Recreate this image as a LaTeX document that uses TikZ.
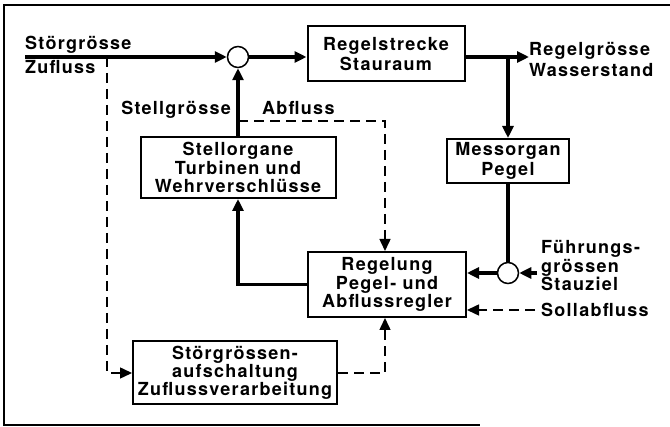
\documentclass[tikz,border=0pt]{standalone}
\usepackage{fontspec}
\setmainfont{TeX Gyre Heros}[LetterSpace=7]
\usepackage{tikz}
\usetikzlibrary{positioning, arrows.meta}

\begin{document}
\begin{tikzpicture}[
      x=1pt, y=-1pt,
      txt/.style={font=\fontsize{18}{18.5}\selectfont\bfseries, inner sep=0pt},
      box/.style={draw, line width=2pt, inner sep=0pt, align=center,
        font=\fontsize{18}{18.5}\selectfont\bfseries},
      sumpt/.style={draw, circle, line width=1.5pt, minimum size=21pt, inner sep=0pt},
      arr/.style={-{Triangle[length=12pt, width=11pt]}, line width=3.5pt},
      dsh/.style={-{Triangle[length=12pt, width=11pt]}, line width=1.5pt,
        dash pattern=on 10pt off 6pt}
    ]
    \useasboundingbox (0,0) rectangle (670,427);
    % frame
    \draw[line width=1.5pt] (670,5) -- (4,5) -- (4,425) -- (480,425);

    % blocks
    \node[box, minimum width=157pt, minimum height=55pt,
      font=\fontsize{18}{20.5}\selectfont\bfseries] (strecke) at (386,54) {Regelstrecke\\Stauraum};
    \node[box, minimum width=122pt, minimum height=44pt,
      font=\fontsize{18}{20.5}\selectfont\bfseries] (mess) at (508,161) {Messorgan\\Pegel};
    \node[box, minimum width=195pt, minimum height=61pt] (stell) at (238,167.5)
      {Stellorgane\\Turbinen und\\Wehrverschlüsse};
    \node[box, minimum width=158pt, minimum height=65pt] (regler) at (387,284.5)
      {Regelung\\Pegel- und\\Abflussregler};
    \node[box, minimum width=204pt, minimum height=63pt,
      font=\fontsize{18}{17}\selectfont\bfseries] (aufsch) at (235,373)
      {Störgrössen-\\aufschaltung\\Zuflussverarbeitung};
    \node[sumpt] (sum1) at (238,57) {};
    \node[sumpt] (sum2) at (508,273) {};

    % labels
    \node[txt, anchor=base west] (stoer) at (25,50) {Störgrösse};
    \node[txt, anchor=base west] (zufl) at (25,74) {Zufluss};
    \node[txt, anchor=base east] (stellgr) at (231,115) {Stellgrösse};
    \node[txt, anchor=base west] (abfl) at (262,115) {Abfluss};
    \node[txt, anchor=west, align=left, font=\fontsize{18}{21}\selectfont\bfseries]
      (regelgr) at (529,59) {Regelgrösse\\Wasserstand};
    \node[txt, anchor=west, align=left] (fuehr) at (541,266)
      {Führungs-\\grössen\\Stauziel};
    \node[txt, anchor=west] (soll) at (541,310) {Sollabfluss};

    \coordinate (in) at (25,57);
    \coordinate (zu) at (107,57);
    \coordinate (ab) at (238,121);

    % signal paths
    \draw[arr] (in) -- (sum1);
    \draw[arr] (sum1) -- (sum1 -| strecke.west);
    \draw[arr] (strecke.east |- sum1) -- (regelgr.west |- sum1);
    \draw[arr] (mess.north |- sum1) -- (mess.north);
    \draw[line width=3.5pt] (mess.south) -- (sum2.north);
    \draw[arr] (sum2) -- (sum2 -| regler.east);
    \draw[arr] ([xshift=-4pt]fuehr.west |- sum2) -- (sum2);
    \draw[arr] (regler.west) -| (stell.south);
    \draw[arr] (stell.north) -- (sum1.south);

    % dashed paths
    \draw[dsh] ([xshift=-6pt]soll.west) -- (soll.west -| regler.east);
    \draw[dsh] (ab) -| ([xshift=-2pt]regler.north);
    \draw[dsh] (zu) |- (aufsch.west);
    \draw[dsh] (aufsch.east) -| ([xshift=-2pt]regler.south);
  \end{tikzpicture}
\end{document}
